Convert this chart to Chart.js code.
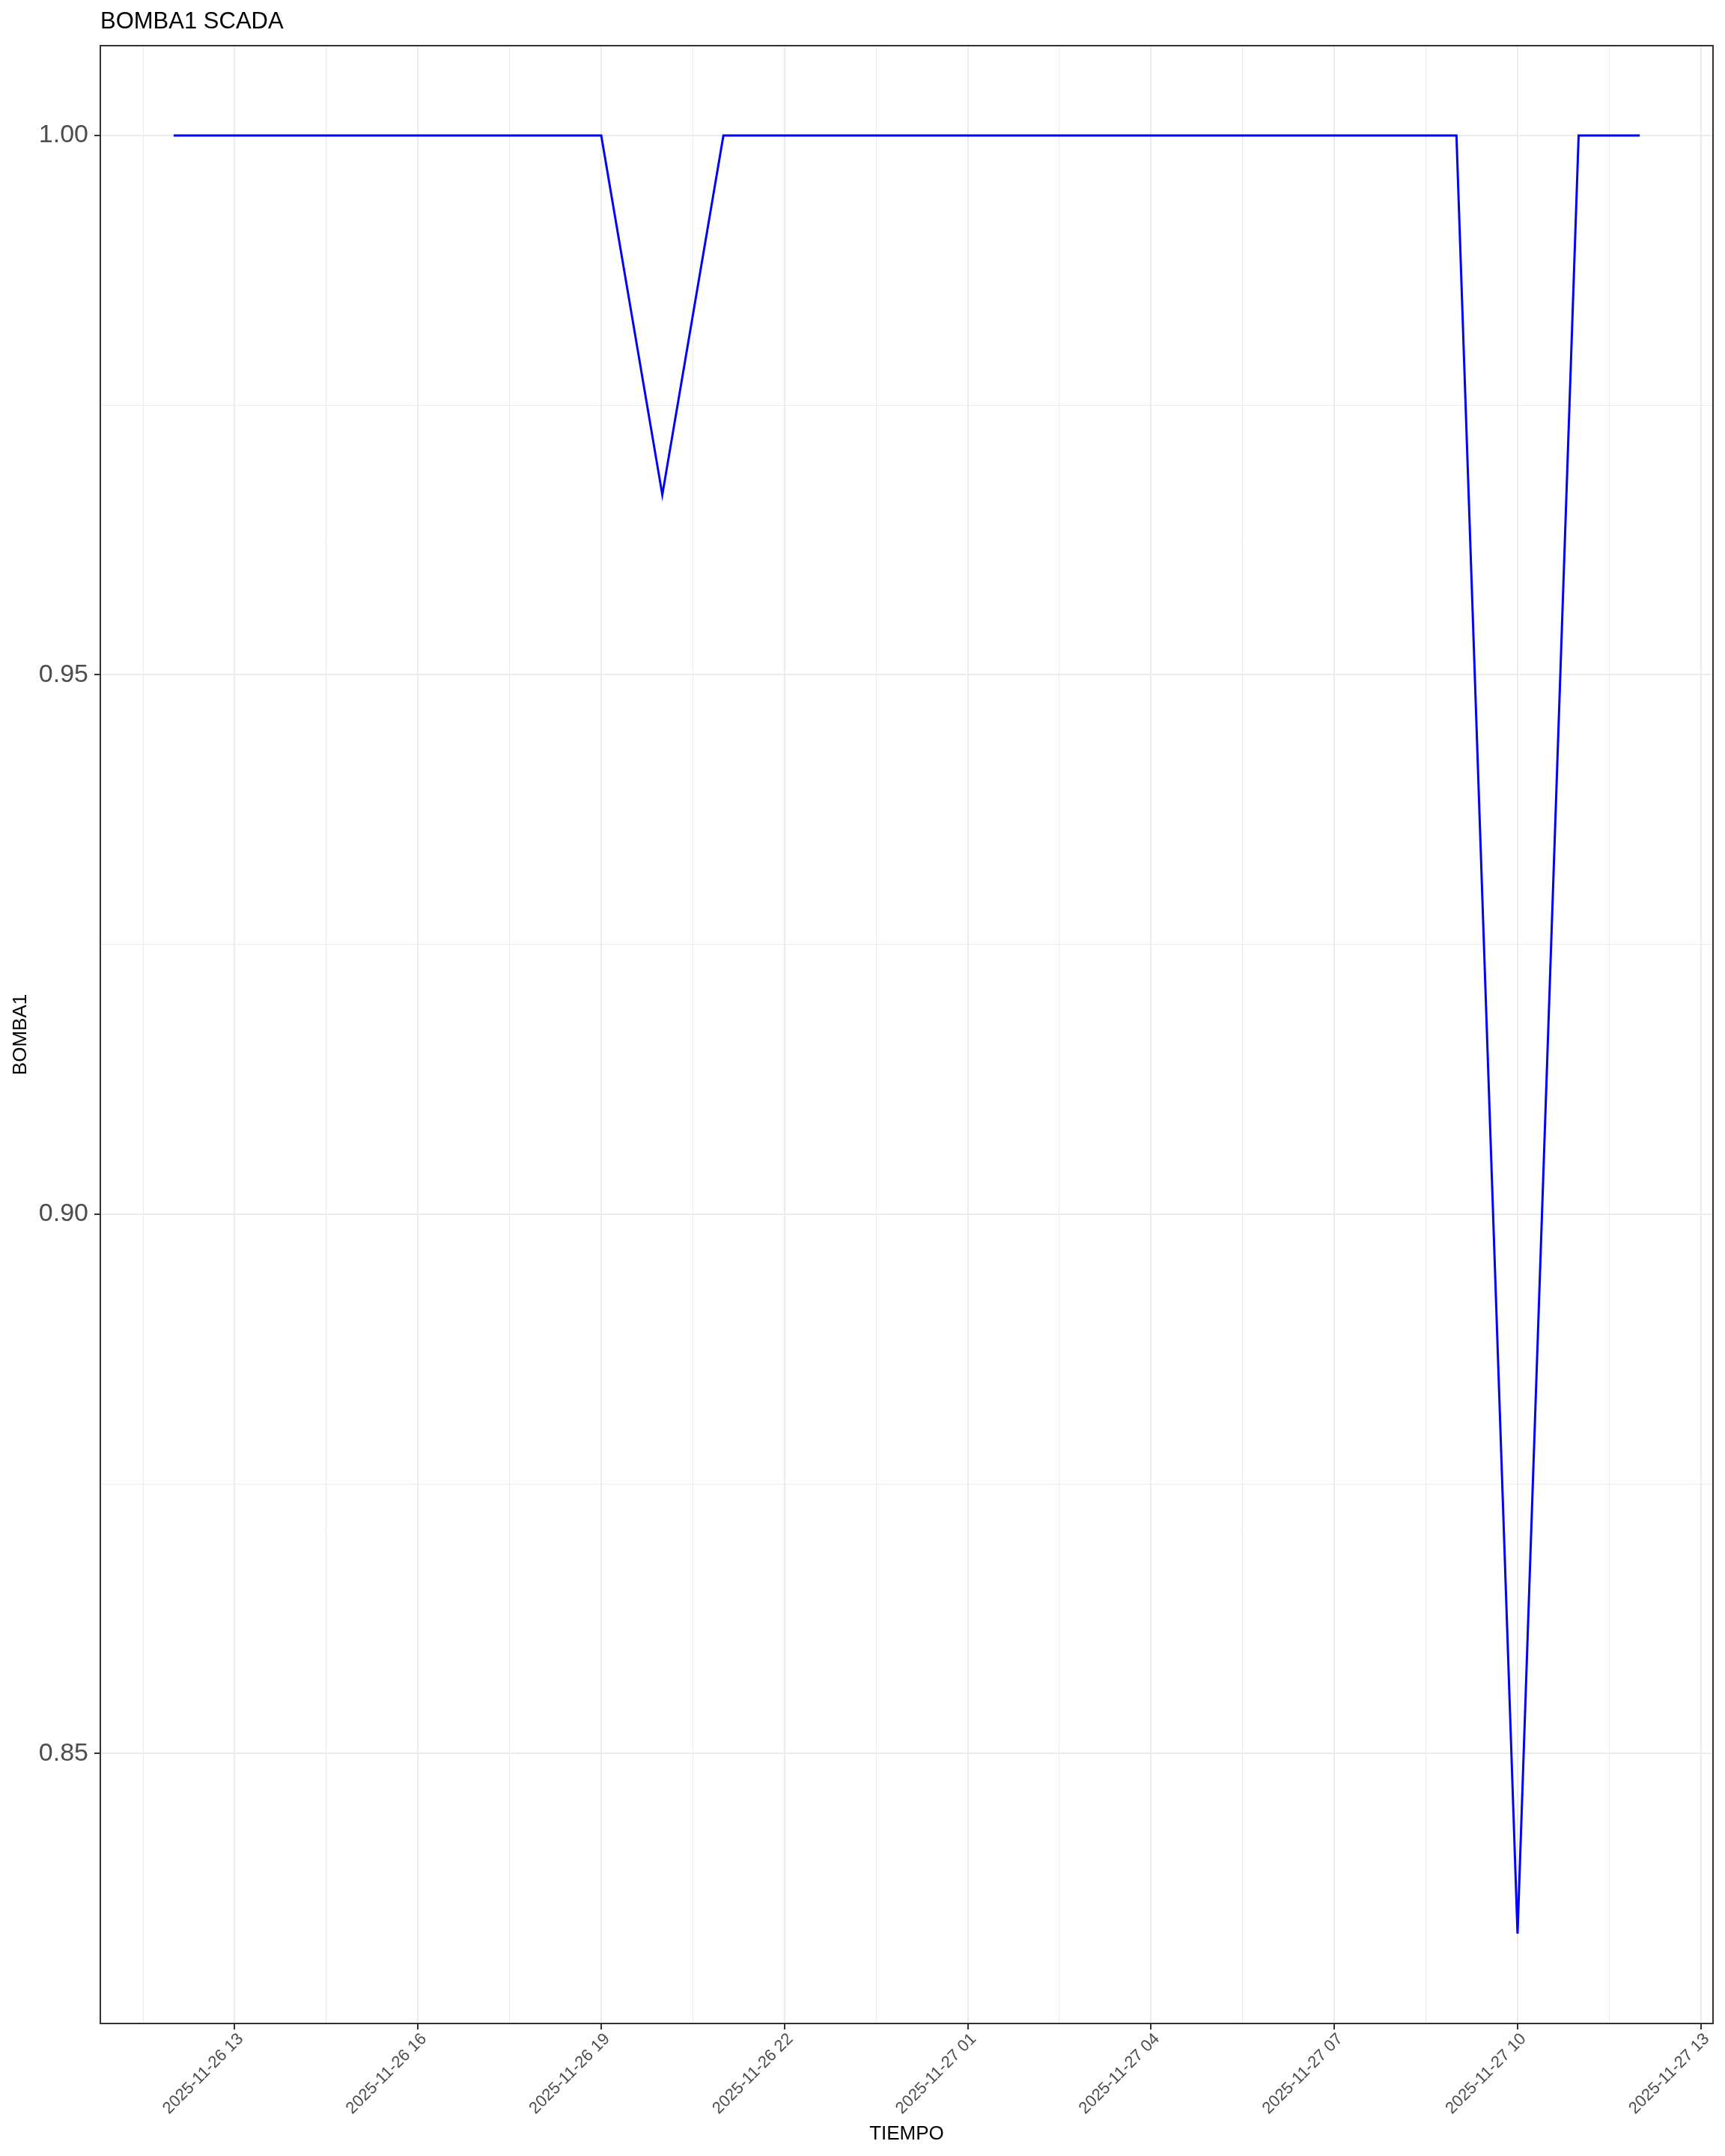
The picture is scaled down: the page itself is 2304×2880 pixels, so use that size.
<!DOCTYPE html>
<html><head><meta charset="utf-8">
<script src="https://cdn.jsdelivr.net/npm/chart.js@4.4.1/dist/chart.umd.min.js"></script>
<style>html,body{margin:0;padding:0;background:#fff}canvas{display:block}</style>
</head><body>
<canvas id="c" width="2304" height="2880"></canvas>
<script>
// ---- data ----
const times = [
  "2025-11-26 12:00","2025-11-26 13:00","2025-11-26 14:00","2025-11-26 15:00","2025-11-26 16:00",
  "2025-11-26 17:00","2025-11-26 18:00","2025-11-26 19:00","2025-11-26 20:00","2025-11-26 21:00",
  "2025-11-26 22:00","2025-11-26 23:00","2025-11-27 00:00","2025-11-27 01:00","2025-11-27 02:00",
  "2025-11-27 03:00","2025-11-27 04:00","2025-11-27 05:00","2025-11-27 06:00","2025-11-27 07:00",
  "2025-11-27 08:00","2025-11-27 09:00","2025-11-27 10:00","2025-11-27 11:00","2025-11-27 12:00"
];
const bomba1 = [
  1, 1, 1, 1, 1,
  1, 1, 1, 0.9667, 1,
  1, 1, 1, 1, 1,
  1, 1, 1, 1, 1,
  1, 1, 0.8333, 1, 1
];
const xTickLabels = ["2025-11-26 13","2025-11-26 16","2025-11-26 19","2025-11-26 22",
  "2025-11-27 01","2025-11-27 04","2025-11-27 07","2025-11-27 10","2025-11-27 13"];
const yTickLabels = ["0.85","0.90","0.95","1.00"];
const titleText = "BOMBA1 SCADA";
const xTitle = "TIEMPO";
const yTitle = "BOMBA1";

// ---- helpers ----
function toHours(s){
  const [d,t] = s.split(' ');
  const day = +d.split('-')[2];
  const parts = t.split(':');
  return (day-26)*24 + (+parts[0]) + (parts[1] ? +parts[1]/60 : 0);
}
const xs = times.map(toHours);
const xSpan = xs[xs.length-1]-xs[0];
const xMin = xs[0]-0.05*xSpan, xMax = xs[xs.length-1]+0.05*xSpan;
const yLo = Math.min(...bomba1), yHi = Math.max(...bomba1);
const yMin = yLo-0.05*(yHi-yLo), yMax = yHi+0.05*(yHi-yLo);

const xMajor = xTickLabels.map(toHours);
const xMinor = xMajor.map(v=>v-1.5).filter(v=>v>xMin && v<xMax);
const xLabelMap = new Map(xMajor.map((v,i)=>[v.toFixed(3), xTickLabels[i]]));
const yMajor = yTickLabels.map(Number);
const yMinor = [];
for(let i=0;i<yMajor.length-1;i++) yMinor.push((yMajor[i]+yMajor[i+1])/2);
const yLabelMap = new Map(yMajor.map((v,i)=>[v.toFixed(4), yTickLabels[i]]));
const isXMajor = v => xLabelMap.has(v.toFixed(3));
const isYMajor = v => yLabelMap.has(v.toFixed(4));

const FONT = "'Liberation Sans', Arial, Helvetica, sans-serif";

const decor = {
  id:'decor',
  afterDraw(chart){
    const c = chart.ctx, a = chart.chartArea;
    c.save();
    c.strokeStyle = '#333333';
    c.lineWidth = 2;
    c.strokeRect(a.left, a.top, a.right-a.left, a.bottom-a.top);
    c.fillStyle = '#000';
    c.font = '31px ' + FONT;
    c.textAlign = 'left'; c.textBaseline = 'alphabetic';
    c.fillText(titleText, a.left, 38);
    c.font = '26px ' + FONT;
    c.textAlign = 'center';
    c.fillText(xTitle, (a.left+a.right)/2, 2858);
    c.translate(35, (a.top+a.bottom)/2);
    c.rotate(-Math.PI/2);
    c.fillText(yTitle, 0, 0);
    c.restore();
  }
};

new Chart(document.getElementById('c').getContext('2d'), {
  type:'line',
  data:{datasets:[{
    data: xs.map((x,i)=>({x, y:bomba1[i]})),
    borderColor:'#0000ff', borderWidth:3, pointRadius:0, tension:0, fill:false
  }]},
  options:{
    responsive:false, animation:false, devicePixelRatio:1,
    layout:{padding:{left:0, top:61, right:16, bottom:0}},
    plugins:{legend:{display:false}, tooltip:{enabled:false}, title:{display:false}},
    scales:{
      x:{
        type:'linear', min:xMin, max:xMax,
        afterBuildTicks: ax => { ax.ticks = [...xMinor, ...xMajor].sort((a,b)=>a-b).map(v=>({value:v})); },
        afterFit: ax => { ax.height = 177; },
        border:{display:false},
        grid:{
          color:'#ebebeb',
          lineWidth: c => (c.tick && isXMajor(c.tick.value)) ? 2 : 1,
          tickColor: c => (c.tick && isXMajor(c.tick.value)) ? '#333333' : 'rgba(0,0,0,0)',
          tickLength:8, tickWidth:2
        },
        ticks:{
          autoSkip:false, maxRotation:45, minRotation:45, padding:0, labelOffset:8,
          color:'#4d4d4d', font:{family:FONT, size:22},
          callback: v => xLabelMap.get(Number(v).toFixed(3)) || ''
        }
      },
      y:{
        type:'linear', min:yMin, max:yMax,
        afterBuildTicks: ax => { ax.ticks = [...yMinor, ...yMajor].sort((a,b)=>a-b).map(v=>({value:v})); },
        afterFit: ax => { ax.width = 134; },
        border:{display:false},
        grid:{
          color:'#ebebeb',
          lineWidth: c => (c.tick && isYMajor(c.tick.value)) ? 2 : 1,
          tickColor: c => (c.tick && isYMajor(c.tick.value)) ? '#333333' : 'rgba(0,0,0,0)',
          tickLength:8, tickWidth:2
        },
        ticks:{
          autoSkip:false, padding:8,
          color:'#4d4d4d', font:{family:FONT, size:34},
          callback: v => yLabelMap.get(Number(v).toFixed(4)) || ''
        }
      }
    }
  },
  plugins:[decor]
});
</script>
</body></html>
